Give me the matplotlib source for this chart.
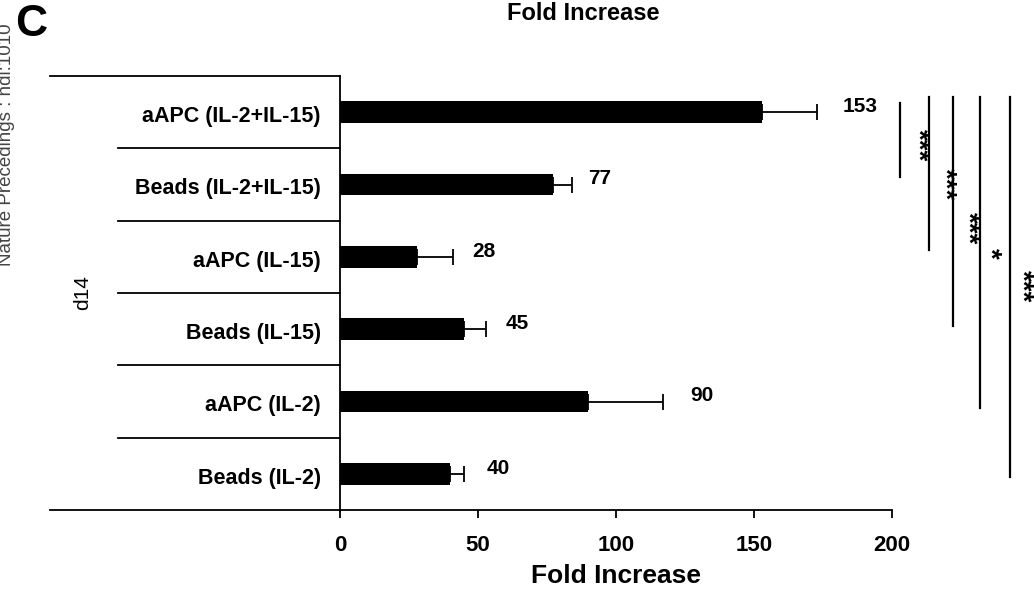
import matplotlib
matplotlib.use("Agg")
import matplotlib.pyplot as plt

plt.rcParams['font.family'] = ['Liberation Sans', 'DejaVu Sans']

# ---- data ----
categories = ["Beads (IL-2)", "aAPC (IL-2)", "Beads (IL-15)",
              "aAPC (IL-15)", "Beads (IL-2+IL-15)", "aAPC (IL-2+IL-15)"]
values = [40, 90, 45, 28, 77, 153]
errors = [5, 27, 8, 13, 7, 20]
value_labels = ["40", "90", "45", "28", "77", "153"]
group_label = "d14"
xticks = [0, 50, 100, 150, 200]
sig_from = [5, 5, 5, 5, 5]
sig_to = [4, 3, 2, 1, 0]
sig_text = ["***", "***", "***", "*", "***"]

# ---- layout helpers (not data) ----
label_x = [53, 127, 60, 48, 90, 182]
sig_x = [203, 213.4, 222, 232, 242.6]
sig_top = [5.12, 5.21, 5.21, 5.21, 5.21]
sig_bot_off = [0.1, 0.1, 0.05, -0.09, -0.05]
star_x = [209.0, 218.8, 227.3, 235.3, 247.0]
star_y = [4.54, 4.0, 3.4, 3.05, 2.6]

fig = plt.figure(figsize=(10.34, 5.96), dpi=100)
ax = fig.add_axes([340/1034, 1-510/596, 552/1034, 434/596])

ypos = list(range(len(categories)))
ax.barh(ypos, values, height=0.3, color='black', zorder=3)
ax.errorbar(values, ypos, xerr=[[0]*len(errors), errors], fmt='none',
            ecolor='black', elinewidth=1.3, capsize=6, capthick=1.3, zorder=2)
for y, lx, t in zip(ypos, label_x, value_labels):
    ax.text(lx, y + 0.08, t, ha='left', va='center', fontsize=15,
            fontweight='bold')

ax.set_xlim(0, 200)
ax.set_ylim(-0.5, len(categories) - 0.5)
ax.set_xticks(xticks)
ax.set_xticklabels([str(t) for t in xticks], fontsize=16, fontweight='bold')
ax.tick_params(axis='x', direction='out', length=6, width=1.3, pad=12)
ax.set_yticks([])
for s in ['top', 'right']:
    ax.spines[s].set_visible(False)
ax.spines['left'].set_linewidth(1.3)
ax.spines['bottom'].set_linewidth(1.3)
ax.spines['left'].set_bounds(-0.52, len(categories) - 0.5)
ax.set_xlabel("Fold Increase", fontsize=19, fontweight='bold', labelpad=6)

# category labels and separators (left table)
trans = ax.get_yaxis_transform()
for y, c in zip(ypos, categories):
    ax.text(-0.035, y - 0.06, c, transform=trans, ha='right', va='center',
            fontsize=15.5, fontweight='bold')
for k in range(1, len(categories)):
    ax.plot([-(340-118)/552, 0], [k - 0.5, k - 0.5], transform=trans,
            color='black', lw=1.3, clip_on=False)
for yy in [-0.5, len(categories) - 0.5]:
    ax.plot([-(340-50)/552, 0], [yy, yy], transform=trans,
            color='black', lw=1.3, clip_on=False)
ax.text(-(340-83)/552, (len(categories) - 1) / 2, group_label, transform=trans,
        rotation=90, ha='center', va='center', fontsize=15)

# significance lines
for a, b, x, top, off, sx, sy, st in zip(sig_from, sig_to, sig_x, sig_top,
                                          sig_bot_off, star_x, star_y, sig_text):
    ax.plot([x, x], [top, b + off], color='black', lw=1.6, clip_on=False)
    ax.text(sx, sy, st, rotation=270, ha='center', va='center', fontsize=20,
            fontweight='bold', clip_on=False)

fig.text(583/1034, 1-14/596, "Fold Increase", ha='center', va='center',
         fontsize=17, fontweight='bold')
fig.text(31/1034, 1-25/596, "C", ha='center', va='center', fontsize=32,
         fontweight='bold')
fig.text(7/1034, 1-266/596, "Nature Precedings : hdl:1010",
         rotation=90, ha='center', va='bottom', fontsize=13.5, color='#444444')

fig.savefig("out.png", dpi=100)
